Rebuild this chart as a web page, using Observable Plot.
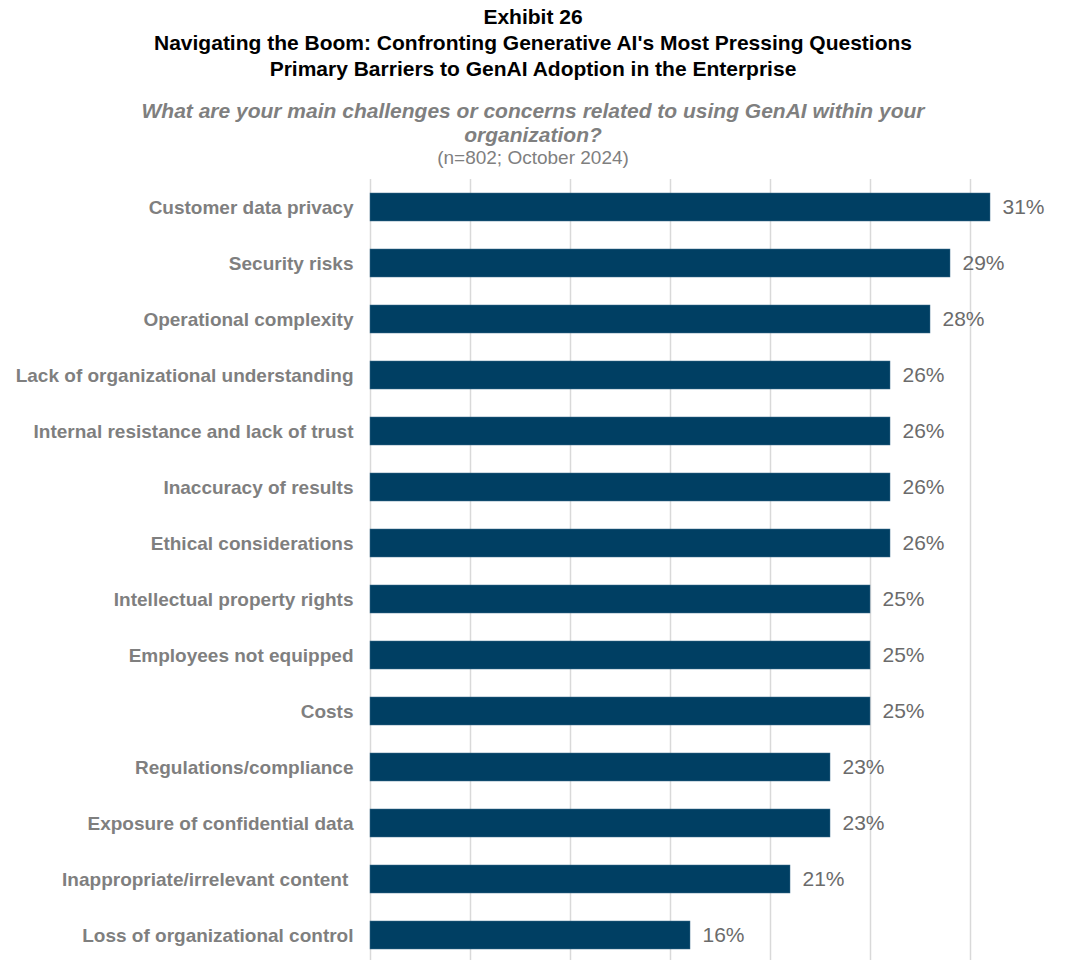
<!DOCTYPE html>
<html>
<head>
<meta charset="utf-8">
<script src="https://cdn.jsdelivr.net/npm/d3@7"></script>
<script src="https://cdn.jsdelivr.net/npm/@observablehq/plot@0.6"></script>
<style>
  html, body { margin: 0; padding: 0; background: #fff; }
  body { width: 1066px; font-family: "Liberation Sans", Arial, sans-serif; }
  #header { position: relative; height: 179px; }
  .t { position: absolute; left: 0; width: 1066px; text-align: center; white-space: nowrap; }
  .title { font-weight: bold; font-size: 21px; color: #000; }
  .q { font-weight: bold; font-style: italic; font-size: 21px; color: #7f7f7f; }
  .n { font-size: 19px; color: #7f7f7f; }
  svg text { white-space: pre; }
</style>
</head>
<body>
<div id="header">
  <div class="t title" style="top:5px;">Exhibit 26</div>
  <div class="t title" style="top:31px;">Navigating the Boom: Confronting Generative AI's Most Pressing Questions</div>
  <div class="t title" style="top:57px;">Primary Barriers to GenAI Adoption in the Enterprise</div>
  <div class="t q" style="top:99px;">What are your main challenges or concerns related to using GenAI within your</div>
  <div class="t q" style="top:123px;">organization?</div>
  <div class="t n" style="top:147px;">(n=802; October 2024)</div>
</div>
<div id="chart"></div>
<script>
const categories = [
  "Customer data privacy",
  "Security risks",
  "Operational complexity",
  "Lack of organizational understanding",
  "Internal resistance and lack of trust",
  "Inaccuracy of results",
  "Ethical considerations",
  "Intellectual property rights",
  "Employees not equipped",
  "Costs",
  "Regulations/compliance",
  "Exposure of confidential data",
  "Inappropriate/irrelevant content ",
  "Loss of organizational control"
];
const values = [31, 29, 28, 26, 26, 26, 26, 25, 25, 25, 23, 23, 21, 16];
const xTicks = [0, 5, 10, 15, 20, 25, 30];

const data = categories.map((c, i) => ({category: c, value: values[i]}));

const chart = Plot.plot({
  width: 1066,
  height: 784,
  marginLeft: 370,
  marginRight: 0,
  marginTop: 0,
  marginBottom: 0,
  x: {domain: [0, 34.8], axis: null},
  y: {domain: categories, paddingInner: 0.5, paddingOuter: 0.25, round: false, axis: null},
  style: {fontFamily: "'Liberation Sans', Arial, sans-serif", background: "#fff"},
  marks: [
    Plot.ruleX(xTicks, {stroke: "#d9d9d9", strokeWidth: 1.5}),
    Plot.barX(data, {x: "value", y: "category", fill: "#003f63", stroke: "#3d6e8c", strokeWidth: 0.5}),
    Plot.text(data, {x: "value", y: "category", text: d => d.value + "%", textAnchor: "start", dx: 12, fontSize: 21, fill: "#6b6b6b"}),
    Plot.axisY({tickSize: 0, tickPadding: 17, fontSize: 19, fontWeight: "bold", fill: "#7f7f7f", label: null})
  ]
});
document.getElementById("chart").appendChild(chart);
</script>
</body>
</html>
